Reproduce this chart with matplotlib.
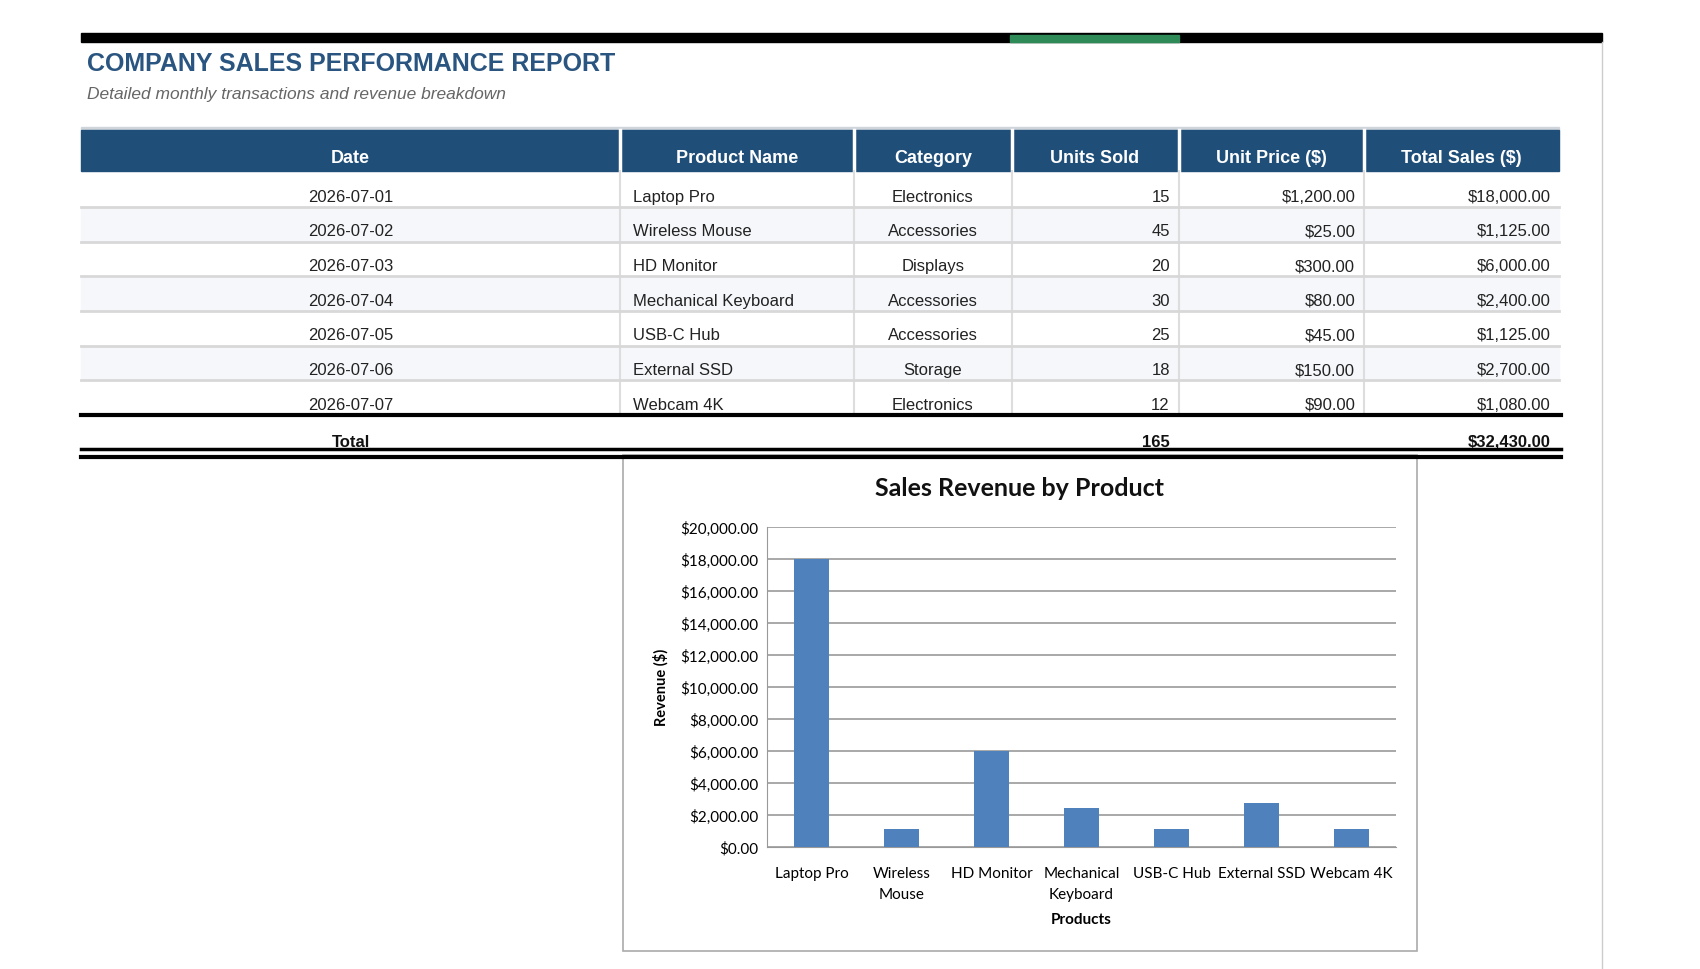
import matplotlib
matplotlib.use("Agg")
import matplotlib.pyplot as plt
from matplotlib.patches import Rectangle

dates = ["2026-07-01","2026-07-02","2026-07-03","2026-07-04","2026-07-05","2026-07-06","2026-07-07"]
products = ["Laptop Pro","Wireless Mouse","HD Monitor","Mechanical Keyboard","USB-C Hub","External SSD","Webcam 4K"]
categories = ["Electronics","Accessories","Displays","Accessories","Accessories","Storage","Electronics"]
units = [15,45,20,30,25,18,12]
prices = [1200,25,300,80,45,150,90]
totals = [18000,1125,6000,2400,1125,2700,1080]
chart_labels = ["Laptop Pro","Wireless\nMouse","HD Monitor","Mechanical\nKeyboard","USB-C Hub","External SSD","Webcam 4K"]
headers = ["Date","Product Name","Category","Units Sold","Unit Price ($)","Total Sales ($)"]

W, H = 1568, 895
fig = plt.figure(figsize=(17, 9.7), dpi=100)
bg = fig.add_axes([0, 0, 1, 1])
bg.set_xlim(0, W); bg.set_ylim(H, 0); bg.axis("off")
TF = "Liberation Sans"
BLUE = "#1f4e79"

bg.add_patch(Rectangle((75, 31), 1403, 9, color="black"))
bg.add_patch(Rectangle((932, 33), 155, 7, color="#2e8b57"))
bg.plot([1478, 1478], [40, H], color="#cccccc", lw=1)
bg.text(80, 59, "COMPANY SALES PERFORMANCE REPORT", fontsize=18, fontweight="bold",
        color="#2a5580", family=TF, va="center")
bg.text(80, 87, "Detailed monthly transactions and revenue breakdown", fontsize=12.5,
        style="italic", color="#666666", family=TF, va="center")

cols = [75, 572, 788, 933, 1087, 1258, 1438]
bg.add_patch(Rectangle((75, 118), 1363, 3, color="#d0d5dc"))
bg.add_patch(Rectangle((75, 121), 1363, 38, color=BLUE))
for i, h in enumerate(headers):
    bg.text((cols[i] + cols[i+1]) / 2, 146, h, color="white", fontsize=13, fontweight="bold",
            family=TF, ha="center", va="center")
for c in cols[1:-1]:
    bg.plot([c, c], [121, 159], color="white", lw=2.5)
    bg.plot([c, c], [159, 383], color="#dddddd", lw=1.5)

rh = 32
for r in range(len(dates)):
    y0 = 160 + r * rh
    if r % 2 == 1:
        bg.add_patch(Rectangle((75, y0), 1363, rh, color="#f5f7fa", zorder=0))
    if r < len(dates) - 1:
        bg.plot([75, 1438], [y0 + rh, y0 + rh], color="#d8d8d8", lw=2)
    yc = y0 + 22
    kw = dict(fontsize=12, family=TF, va="center", color="#222222")
    bg.text((cols[0] + cols[1]) / 2, yc, dates[r], ha="center", **kw)
    bg.text(584, yc, products[r], ha="left", **kw)
    bg.text((cols[2] + cols[3]) / 2, yc, categories[r], ha="center", **kw)
    bg.text(cols[4] - 8, yc, f"{units[r]}", ha="right", **kw)
    bg.text(cols[5] - 8, yc, f"${prices[r]:,.2f}", ha="right", **kw)
    bg.text(cols[6] - 8, yc, f"${totals[r]:,.2f}", ha="right", **kw)

bg.plot([75, 1440], [384, 384], color="black", lw=3)
kw = dict(fontsize=12, family=TF, va="center", fontweight="bold", color="#111111")
bg.text((cols[0] + cols[1]) / 2, 408, "Total", ha="center", **kw)
bg.text(cols[4] - 8, 408, f"{sum(units)}", ha="right", **kw)
bg.text(cols[6] - 8, 408, f"${sum(totals):,.2f}", ha="right", **kw)
bg.plot([75, 1440], [415, 415], color="black", lw=2.5, zorder=3)
bg.plot([75, 1440], [423, 423], color="black", lw=3, zorder=3)

bg.add_patch(Rectangle((575, 421), 732, 457, facecolor="white", edgecolor="#aaaaaa", lw=1.2, zorder=2))
bg.text(940, 451, "Sales Revenue by Product", fontsize=18, fontweight="bold", family="Lato",
        ha="center", va="center", color="#111111", zorder=4)

ax = fig.add_axes([707 / W, 1 - 782 / H, (1288 - 707) / W, (782 - 487) / H])
ax.set_zorder(5)
ax.patch.set_alpha(0)
x = range(len(totals))
ax.bar(x, totals, width=0.38, color="#4f81bd", zorder=3)
ax.set_ylim(0, 20000)
ax.set_xlim(-0.5, len(totals) - 0.5)
ax.set_yticks(range(0, 20001, 2000))
ax.set_yticklabels([f"${v:,.2f}" for v in range(0, 20001, 2000)], family="Lato", fontsize=11)
ax.set_xticks(list(x))
ax.set_xticklabels(chart_labels, family="Lato", fontsize=11, linespacing=1.65)
ax.grid(axis="y", color="#999999", lw=1.2, zorder=0)
for s in ["top", "right"]:
    ax.spines[s].set_visible(False)
ax.spines["left"].set_color("#999999")
ax.spines["bottom"].set_color("#999999")
ax.tick_params(axis="y", length=0, pad=6)
ax.tick_params(axis="x", length=0, pad=14)
ax.set_ylabel("Revenue ($)", family="Lato", fontweight="bold", fontsize=10.5, labelpad=8)
ax.set_xlabel("Products", family="Lato", fontweight="bold", fontsize=11, labelpad=8)

fig.savefig("out.png", dpi=100, facecolor="white")
